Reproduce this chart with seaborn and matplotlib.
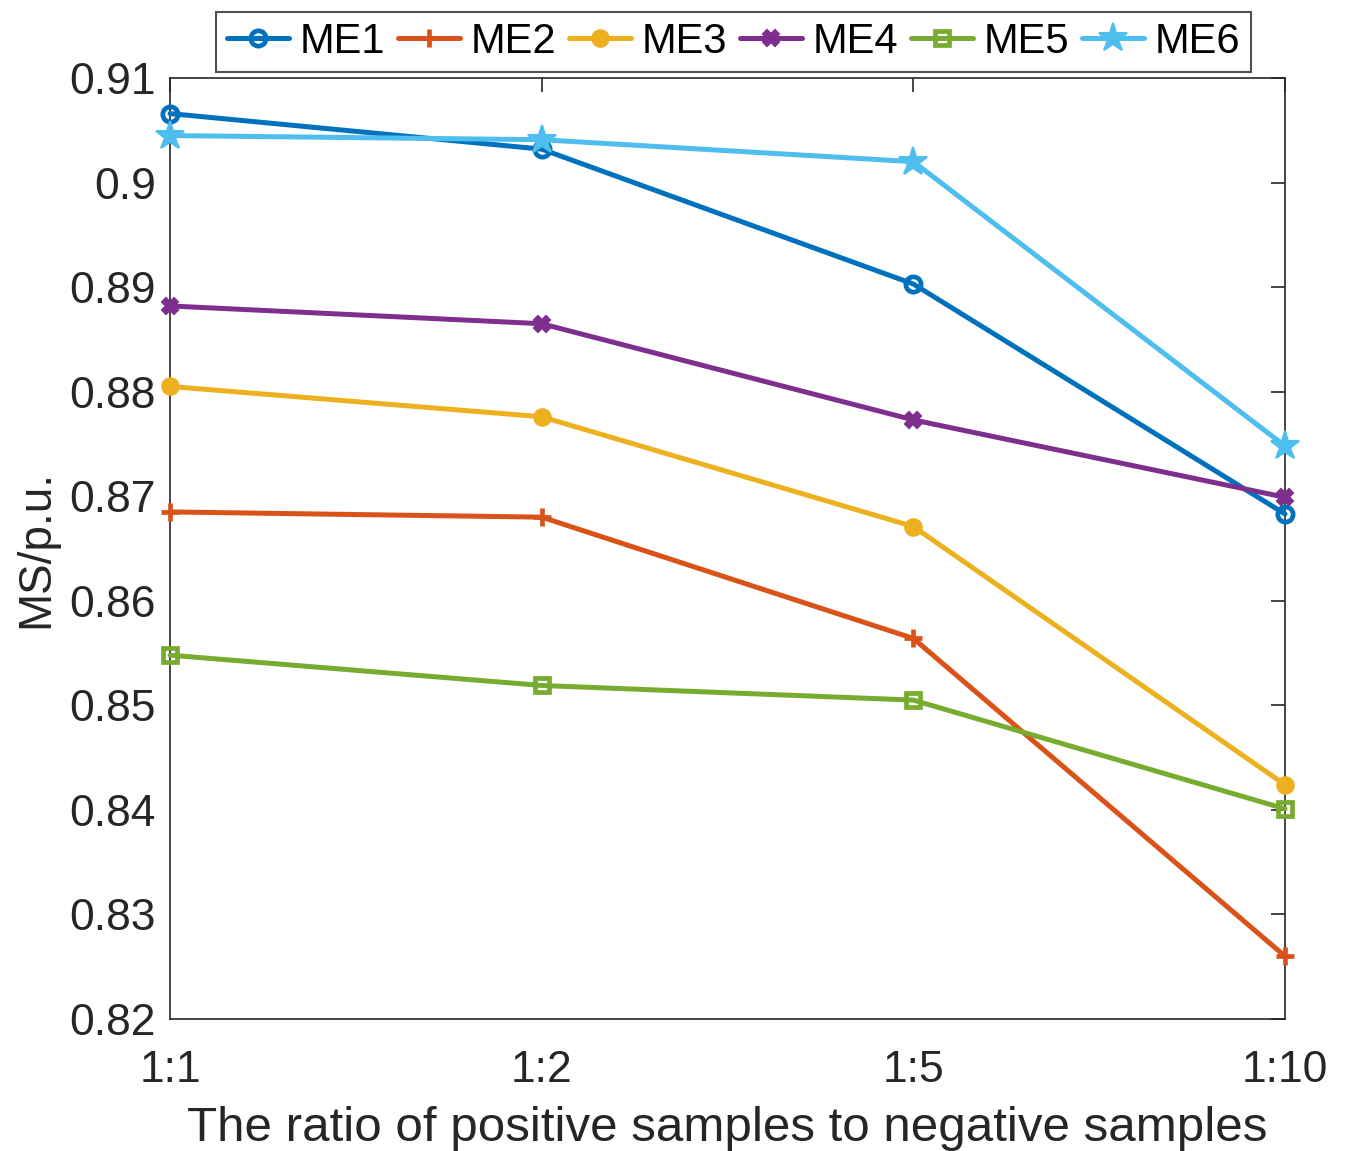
import numpy as np
import pandas as pd
import matplotlib
matplotlib.use("Agg")
import matplotlib.pyplot as plt
import seaborn as sns

ratios = ["1:1", "1:2", "1:5", "1:10"]
series_names = ["ME1", "ME2", "ME3", "ME4", "ME5", "ME6"]
me1 = [0.9066, 0.9032, 0.8903, 0.8683]
me2 = [0.8685, 0.8680, 0.8564, 0.8260]
me3 = [0.8805, 0.8776, 0.8671, 0.8424]
me4 = [0.8882, 0.8865, 0.8773, 0.8699]
me5 = [0.8548, 0.8519, 0.8505, 0.8401]
me6 = [0.9045, 0.9041, 0.9020, 0.8748]
yticks = [0.82, 0.83, 0.84, 0.85, 0.86, 0.87, 0.88, 0.89, 0.90, 0.91]
ytick_labels = ["0.82", "0.83", "0.84", "0.85", "0.86", "0.87", "0.88", "0.89", "0.9", "0.91"]

colors = ["#0072BD", "#D95319", "#EDB120", "#7E2F8E", "#77AC30", "#4DBEEE"]
markers = ["o", "+", "o", "X", "s", "*"]
msizes = [11, 13, 10, 11, 10, 21]
fills = [False, False, True, True, False, True]

rows = []
for name, vals in zip(series_names, [me1, me2, me3, me4, me5, me6]):
    for i, (r, v) in enumerate(zip(ratios, vals)):
        rows.append({"series": name, "ratio": r, "pos": i, "value": v})
df = pd.DataFrame(rows)

sns.set_theme(style="white")
plt.rcParams["font.family"] = ["Liberation Sans", "DejaVu Sans"]

fig = plt.figure(figsize=(13.47, 11.51), dpi=100)
ax = fig.add_axes([0.1262, 0.1147, 0.9540 - 0.1262, 0.9322 - 0.1147])

for name, c, m, ms, f in zip(series_names, colors, markers, msizes, fills):
    sub = df[df["series"] == name]
    sns.lineplot(data=sub, x="pos", y="value", ax=ax, color=c, lw=3.6,
                 marker=m, markersize=ms,
                 markerfacecolor=(c if f else "none"),
                 markeredgecolor=c, markeredgewidth=3.4 if m in ["o", "+", "s"] else 1.5,
                 label=name, clip_on=False, zorder=3)

ax.set_xlim(0, 3)
ax.set_ylim(0.82, 0.91)
ax.set_xticks(range(len(ratios)))
ax.set_xticklabels(ratios)
ax.set_yticks(yticks)
ax.set_yticklabels(ytick_labels)
ax.tick_params(axis="both", direction="in", length=10, width=1.2, colors="#262626",
               labelsize=32, top=True, right=True, pad=10)
ax.tick_params(axis="x", pad=22)
for s in ax.spines.values():
    s.set_visible(True)
    s.set_color("#262626")
    s.set_linewidth(1.2)
ax.set_xlabel("The ratio of positive samples to negative samples", fontsize=35.5,
              color="#262626", labelpad=11)
ax.set_ylabel("MS/p.u.", fontsize=33, color="#262626", labelpad=8)

leg = ax.legend(loc="lower center", bbox_to_anchor=(0.5055, 1.006), ncol=6,
                fontsize=30, frameon=True, fancybox=False, edgecolor="#262626",
                handlelength=1.5, handletextpad=0.25, columnspacing=0.3,
                borderpad=0.25, borderaxespad=0.0)
leg.get_frame().set_linewidth(1.5)
for t in leg.get_texts():
    t.set_color("black")

fig.savefig("out.png", dpi=100)
